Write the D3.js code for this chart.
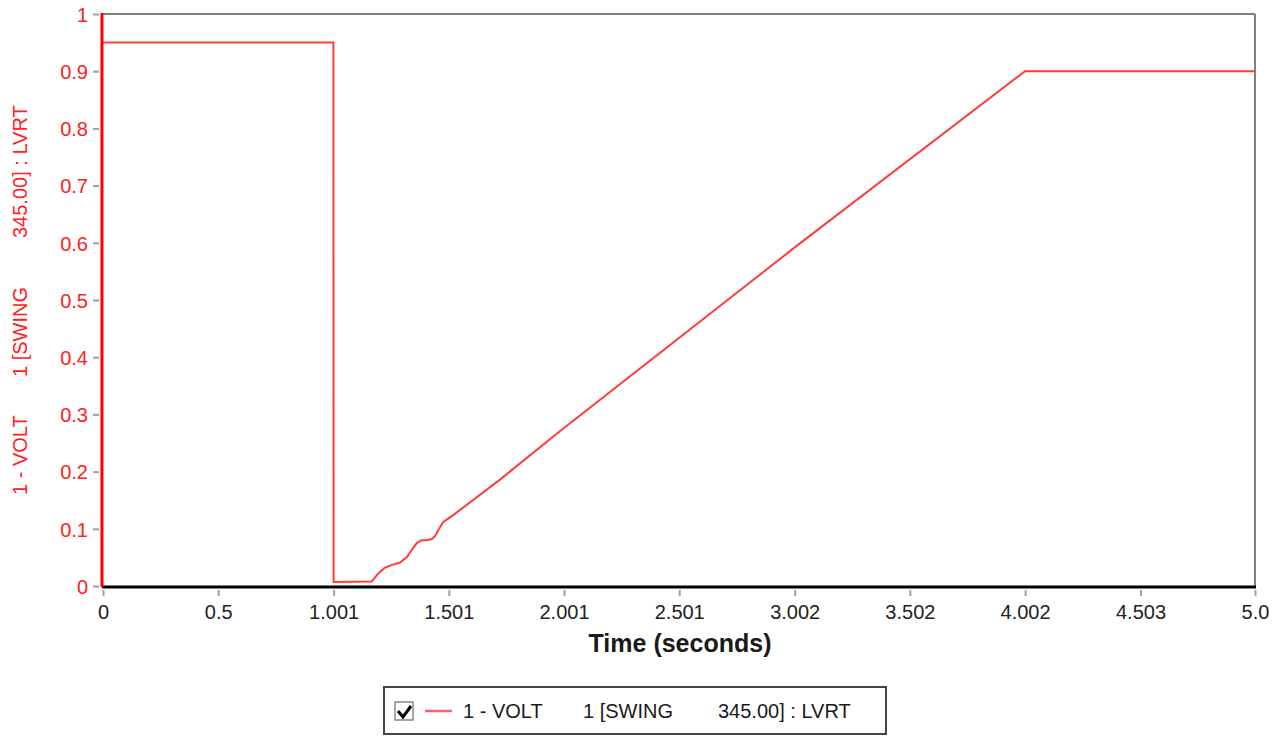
<!DOCTYPE html>
<html><head><meta charset="utf-8">
<script src="https://cdn.jsdelivr.net/npm/d3@7"></script>
<style>
body{margin:0;background:#fff;}
svg{font-family:"Liberation Sans",Arial,sans-serif;}
</style></head>
<body><svg id="c" width="1274" height="737"></svg>
<script>
const times = [0, 1.0, 1.001, 1.166, 1.195, 1.224, 1.255, 1.289, 1.318, 1.340, 1.362, 1.383, 1.405, 1.427, 1.441, 1.460, 1.477, 1.520, 1.723, 1.984, 3.012, 4.002, 5.0];
const volts = [0.95, 0.95, 0.007, 0.008, 0.022, 0.032, 0.037, 0.041, 0.050, 0.063, 0.075, 0.080, 0.080, 0.082, 0.087, 0.101, 0.112, 0.124, 0.186, 0.271, 0.595, 0.900, 0.900];
const xTicks = [0, 0.5, 1.001, 1.501, 2.001, 2.501, 3.002, 3.502, 4.002, 4.503, 5.0];
const xTickLabels = ["0", "0.5", "1.001", "1.501", "2.001", "2.501", "3.002", "3.502", "4.002", "4.503", "5.0"];
const yTicks = [0, 0.1, 0.2, 0.3, 0.4, 0.5, 0.6, 0.7, 0.8, 0.9, 1];
const yTickLabels = ["0", "0.1", "0.2", "0.3", "0.4", "0.5", "0.6", "0.7", "0.8", "0.9", "1"];
const seriesName = ["1 - VOLT", "1 [SWING", "345.00] : LVRT"];

const svg = d3.select("#c");
const L = 103, R = 1255, T = 14, B = 586;
const x = d3.scaleLinear().domain([0, 5.0]).range([L, R]);
const y = d3.scaleLinear().domain([0, 1]).range([B, T]);

// frame top/right grey
svg.append("line").attr("x1", L).attr("x2", R).attr("y1", T).attr("y2", T).attr("stroke", "#808080").attr("stroke-width", 2);
svg.append("line").attr("x1", R).attr("x2", R).attr("y1", T).attr("y2", B).attr("stroke", "#808080").attr("stroke-width", 2);

// x axis
const xAxis = d3.axisBottom(x).tickValues(xTicks).tickFormat((d, i) => xTickLabels[i]).tickSize(0).tickPadding(0);
const gx = svg.append("g").attr("transform", `translate(0,${B})`).call(xAxis);
gx.select(".domain").remove();
gx.selectAll(".tick line").remove();
gx.selectAll(".tick").append("line").attr("y1", 4).attr("y2", 10).attr("stroke", "#a0a0a0").attr("stroke-width", 2);
gx.selectAll(".tick text").attr("y", 33).attr("dy", 0).attr("font-size", 20).attr("fill", "#222");

// y axis
const yAxis = d3.axisLeft(y).tickValues(yTicks).tickFormat((d, i) => yTickLabels[i]).tickSize(0).tickPadding(0);
const gy = svg.append("g").attr("transform", `translate(${L},0)`).call(yAxis);
gy.select(".domain").remove();
gy.selectAll(".tick line").remove();
gy.selectAll(".tick").append("line").attr("x1", -4).attr("x2", -10).attr("stroke", "#a0a0a0").attr("stroke-width", 2);
gy.selectAll(".tick text").attr("x", -15).attr("dy", "0.36em").attr("font-size", 20).attr("fill", "#ff2020");

// series
const data = times.map((t, i) => [t, volts[i]]);
svg.append("path").datum(data)
  .attr("d", d3.line().x(d => x(d[0])).y(d => y(d[1])))
  .attr("fill", "none").attr("stroke", "#ff3b3b").attr("stroke-width", 2);

// axes lines
svg.append("line").attr("x1", L - 1).attr("x2", R + 1).attr("y1", B + 1).attr("y2", B + 1).attr("stroke", "#000").attr("stroke-width", 3);
svg.append("line").attr("x1", L - 1).attr("x2", L - 1).attr("y1", T - 1).attr("y2", B + 1).attr("stroke", "#ff0000").attr("stroke-width", 3);

// titles
svg.append("text").attr("x", 680).attr("y", 652).attr("text-anchor", "middle")
  .attr("font-size", 25).attr("font-weight", "bold").attr("fill", "#1a1a1a").text("Time (seconds)");

const ylStarts = [495, 377, 238];
seriesName.forEach((s, i) => {
  svg.append("text").attr("transform", `translate(27,${ylStarts[i]}) rotate(-90)`)
    .attr("font-size", 20).attr("fill", "#ff2020").text(s);
});

// legend
const lg = svg.append("g");
lg.append("rect").attr("x", 384).attr("y", 687).attr("width", 502).attr("height", 47).attr("fill", "#fff").attr("stroke", "#444").attr("stroke-width", 2);
lg.append("rect").attr("x", 395).attr("y", 702).attr("width", 18).attr("height", 18).attr("fill", "#fff").attr("stroke", "#888").attr("stroke-width", 1.5);
lg.append("path").attr("d", "M398,711 L403,717 L411,706").attr("fill", "none").attr("stroke", "#000").attr("stroke-width", 3);
lg.append("line").attr("x1", 425).attr("x2", 452).attr("y1", 711).attr("y2", 711).attr("stroke", "#ff6070").attr("stroke-width", 2.5);
const lxs = [463, 583, 718];
seriesName.forEach((s, i) => {
  lg.append("text").attr("x", lxs[i]).attr("y", 718).attr("font-size", 20).attr("fill", "#1a1a1a").text(s);
});
</script></body></html>
